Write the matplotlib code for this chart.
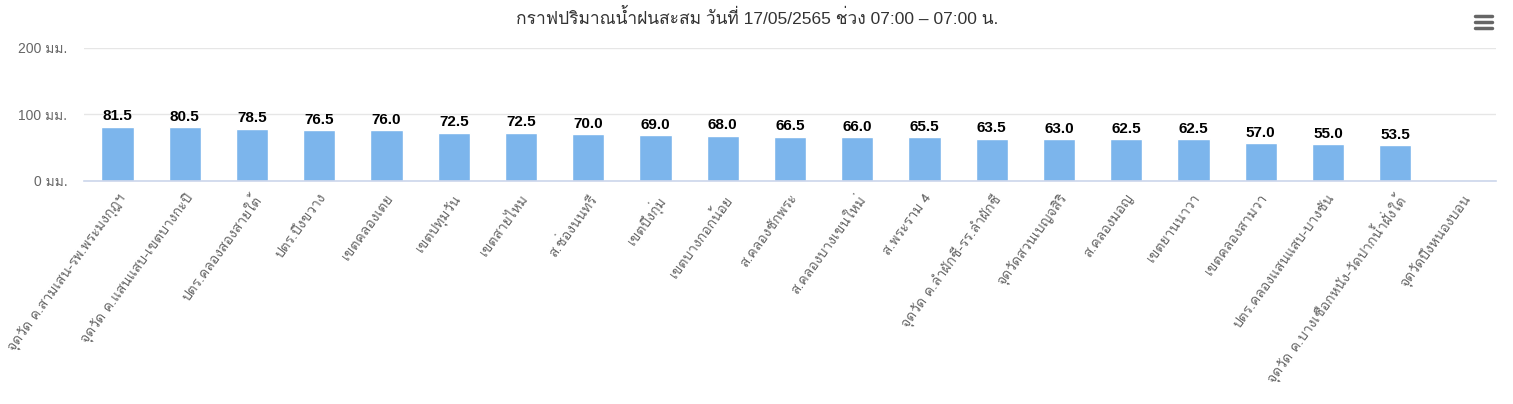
import matplotlib
matplotlib.use("Agg")
import matplotlib.pyplot as plt
from matplotlib.lines import Line2D
import numpy as np

LATIN = ['Liberation Sans', 'Loma', 'DejaVu Sans']
THAI = ['Loma', 'Liberation Sans', 'DejaVu Sans']
plt.rcParams['font.family'] = LATIN

title = "กราฟปริมาณน้ำฝนสะสม วันที่ 17/05/2565 ช่วง 07:00 – 07:00 น."
categories = [
    "จุดวัด ค.สามเสน-รพ.พระมงกุฎฯ",
    "จุดวัด ค.แสนแสบ-เขตบางกะปิ",
    "ปตร.คลองสองสายใต้",
    "ปตร.บึงขวาง",
    "เขตคลองเตย",
    "เขตปทุมวัน",
    "เขตสายไหม",
    "ส.ช่องนนทรี",
    "เขตบึงกุ่ม",
    "เขตบางกอกน้อย",
    "ส.คลองชักพระ",
    "ส.คลองบางเขนใหม่",
    "ส.พระราม 4",
    "จุดวัด ค.ลำผักชี-รร.ลำผักชี",
    "จุดวัดสวนเบญจสิริ",
    "ส.คลองมอญ",
    "เขตยานนาวา",
    "เขตคลองสามวา",
    "ปตร.คลองแสนแสบ-บางชัน",
    "จุดวัด ค.บางเชือกหนัง-วัดปากน้ำฝั่งใต้",
    "จุดวัดบึงหนองบอน",
]
values = [81.5, 80.5, 78.5, 76.5, 76.0, 72.5, 72.5, 70.0, 69.0, 68.0, 66.5,
          66.0, 65.5, 63.5, 63.0, 62.5, 62.5, 57.0, 55.0, 53.5, None]
yticks = [0, 100, 200]
ytick_labels = ["0 มม.", "100 มม.", "200 มม."]

W, H = 1513, 404
fig = plt.figure(figsize=(W / 100, H / 100), dpi=100)
ax = fig.add_axes([84 / W, 1 - 181 / H, (1496 - 84) / W, (181 - 48) / H])

x = np.arange(len(categories))
vals = np.array([np.nan if v is None else v for v in values], dtype=float)
ax.bar(x, np.nan_to_num(vals), width=0.48, color="#7cb5ec",
       edgecolor="white", linewidth=1, zorder=3)
for xi, v in zip(x, vals):
    if not np.isnan(v):
        ax.annotate(f"{v:.1f}", (xi, v), xytext=(0, 2.5), textcoords="offset points",
                    ha="center", va="bottom", fontsize=11, fontweight="bold",
                    color="black", family=LATIN, zorder=4)

ax.set_xlim(-0.5, len(categories) - 0.5)
ax.set_ylim(0, 200)
ax.set_yticks(yticks)
ax.set_yticklabels(ytick_labels)
ax.grid(axis="y", color="#e6e6e6", linewidth=1, zorder=0)
ax.set_axisbelow(True)
for s in ["top", "right", "left"]:
    ax.spines[s].set_visible(False)
ax.spines["bottom"].set_color("#ccd6eb")
ax.spines["bottom"].set_linewidth(1.2)
ax.spines["bottom"].set_zorder(5)
ax.tick_params(axis="y", length=0, pad=12, labelsize=10, labelcolor="#666666")
ax.tick_params(axis="x", length=0, pad=8)
ax.set_xticks(x)
ax.set_xticklabels(categories, rotation=54, ha="right", rotation_mode="anchor",
                   fontsize=10, color="#666666")
for lab in ax.get_xticklabels():
    lab.set_family(THAI)
for lab in ax.get_yticklabels():
    lab.set_family(LATIN)

fig.text(757 / W, 1 - 17 / H, title, ha="center", va="center", fontsize=12.5,
         color="#333333", family=LATIN)

# context menu icon
for yy in [16, 22, 28]:
    fig.add_artist(Line2D([1475 / W, 1492 / W], [1 - yy / H, 1 - yy / H],
                          color="#666666", linewidth=2.5, solid_capstyle="round"))

fig.savefig("out.png", dpi=100, facecolor="white")
